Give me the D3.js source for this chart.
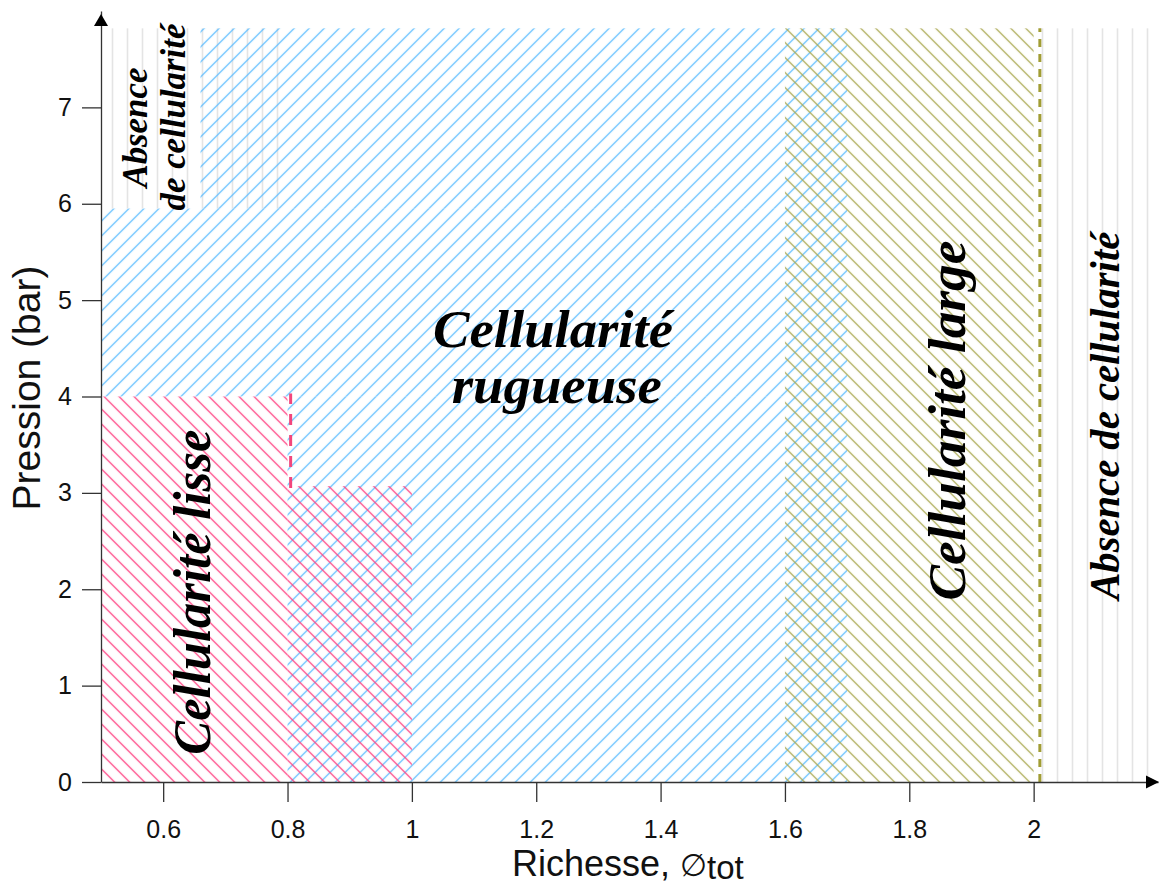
<!DOCTYPE html>
<html>
<head>
<meta charset="utf-8">
<script src="https://cdn.jsdelivr.net/npm/d3@7"></script>
<style>
body { margin: 0; background: #fff; }
svg { display: block; }
.lab { font-family: "Liberation Serif", "Times New Roman", serif; font-weight: bold; font-style: italic; fill: #000; }
.ax text { font-family: "Liberation Sans", Arial, sans-serif; font-size: 25px; fill: #111; }
.title { font-family: "Liberation Sans", Arial, sans-serif; fill: #111; }
</style>
</head>
<body>
<div id="chart"></div>
<script>
// ticks
var xTicks = [0.6, 0.8, 1, 1.2, 1.4, 1.6, 1.8, 2];
var yTicks = [0, 1, 2, 3, 4, 5, 6, 7];

// regimes (data units : richesse / pression)
var regionRegime = ["absence", "rugueuse", "rugueuse", "rugueuse", "lisse", "lisse", "large", "absence"];
var regionX0 = [0.5, 0.66, 0.5, 0.8, 0.5, 0.8, 1.6, 2.0];
var regionX1 = [0.8, 1.7, 1.7, 1.7, 0.8, 1.0, 2.0, 2.2];
var regionY0 = [5.95, 5.95, 4.0, 0, 0, 0, 0, 0];
var regionY1 = [7.82, 7.82, 5.95, 4.0, 4.0, 3.07, 7.82, 7.82];

// dashed limits
var limitRegime = ["lisse", "large"];
var limitX = [0.805, 2.01];
var limitY0 = [3.05, 0];
var limitY1 = [4.03, 7.82];

// annotations
var labelText = ["Absence", "de cellularité", "Cellularité", "rugueuse", "Cellularité lisse", "Cellularité large", "Absence de cellularité"];
var labelX = [0.574, 0.635, 1.227, 1.233, 0.676, 1.889, 2.138];
var labelY = [6.79, 6.90, 4.51, 3.93, 1.97, 3.75, 3.80];

var width = 1159, height = 886;
var svg = d3.select("#chart").append("svg")
    .attr("width", width)
    .attr("height", height);

var x = d3.scaleLinear().domain([0.5, 2.2]).range([101, 1158]);
var y = d3.scaleLinear().domain([0, 8]).range([782, 11]);

var defs = svg.append("defs");
function hatch(id, color, angle, step, sw) {
    var p = defs.append("pattern")
        .attr("id", id)
        .attr("patternUnits", "userSpaceOnUse")
        .attr("width", step)
        .attr("height", step)
        .attr("patternTransform", "rotate(" + angle + ")");
    p.append("line")
        .attr("x1", step / 2).attr("x2", step / 2)
        .attr("y1", -1).attr("y2", step + 1)
        .attr("stroke", color)
        .attr("stroke-width", sw);
}
hatch("h-rugueuse", "#5cbcff", 45, 15 / Math.SQRT2, 1.3);
hatch("h-lisse", "#ff3d80", -45, 15 / Math.SQRT2, 1.3);
hatch("h-large", "#a9a850", -45, 15 / Math.SQRT2, 1.3);
hatch("h-absence", "#e4e4e4", 0, 15, 1.6);

var regime = { absence: "h-absence", rugueuse: "h-rugueuse", lisse: "h-lisse", large: "h-large" };
var limitColor = { lisse: "#f2467c", large: "#a19d34" };

// regions
svg.append("g")
    .selectAll("rect")
    .data(regionRegime)
    .join("rect")
    .attr("x", (d, i) => x(regionX0[i]))
    .attr("y", (d, i) => y(regionY1[i]))
    .attr("width", (d, i) => x(regionX1[i]) - x(regionX0[i]))
    .attr("height", (d, i) => y(regionY0[i]) - y(regionY1[i]))
    .attr("fill", d => "url(#" + regime[d] + ")");

svg.append("g")
    .selectAll("line")
    .data(limitRegime)
    .join("line")
    .attr("x1", (d, i) => x(limitX[i]))
    .attr("x2", (d, i) => x(limitX[i]))
    .attr("y1", (d, i) => y(limitY0[i]))
    .attr("y2", (d, i) => y(limitY1[i]))
    .attr("stroke", d => limitColor[d])
    .attr("stroke-width", 3)
    .attr("stroke-dasharray", d => d == "lisse" ? "11,10" : "8,7");

// axes
var xAxis = svg.append("g").attr("class", "ax")
    .attr("transform", "translate(0," + y(0) + ")")
    .call(d3.axisBottom(x).tickValues(xTicks).tickSize(20).tickSizeOuter(0).tickPadding(18).tickFormat(d => String(d)));
var yAxis = svg.append("g").attr("class", "ax")
    .attr("transform", "translate(" + x(0.5) + ",0)")
    .call(d3.axisLeft(y).tickValues(yTicks).tickSize(19).tickSizeOuter(0).tickPadding(10));
svg.selectAll(".ax path, .ax line").attr("stroke", "#333").attr("stroke-width", 1.3);

// arrows
svg.append("path")
    .attr("d", "M" + x(0.5) + "," + (y(8) + 3) + "l-7,12h14z")
    .attr("fill", "#000");
svg.append("path")
    .attr("d", "M" + (x(2.2) + 1) + "," + y(0) + "l-13,-6.5v13z")
    .attr("fill", "#000");

// axis titles
svg.append("text").attr("class", "title")
    .attr("transform", "translate(40," + 388 + ") rotate(-90)")
    .attr("text-anchor", "middle")
    .attr("font-size", 39)
    .text("Pression (bar)");

var xt = svg.append("text").attr("class", "title")
    .attr("x", 512).attr("y", 876)
    .attr("font-size", 36);
xt.append("tspan").text("Richesse, ");
xt.append("tspan").attr("font-family", "DejaVu Sans").attr("font-weight", 200).attr("font-size", 31).text("\u2205");
xt.append("tspan").attr("font-size", 33).attr("dy", 3).text("tot");

// region labels
var labelSize = [36, 36, 53, 53, 52, 53, 42];
var labelLen = [120, 187, 240, 210, 325, 360, 368];
var labelRot = [-90, -90, 0, 0, -90, -90, -90];
svg.append("g")
    .selectAll("text")
    .data(labelText)
    .join("text")
    .attr("class", "lab")
    .attr("transform", (d, i) => "translate(" + x(labelX[i]) + "," + y(labelY[i]) + ") rotate(" + labelRot[i] + ")")
    .attr("text-anchor", "middle")
    .attr("font-size", (d, i) => labelSize[i])
    .attr("textLength", (d, i) => labelLen[i])
    .attr("lengthAdjust", "spacingAndGlyphs")
    .text(d => d);
</script>
</body>
</html>
